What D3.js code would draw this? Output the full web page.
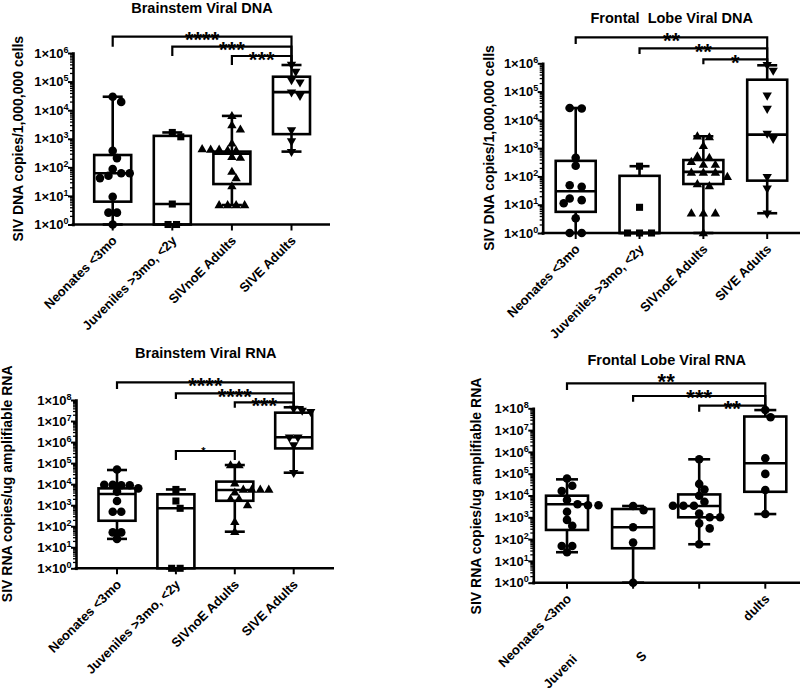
<!DOCTYPE html>
<html><head><meta charset="utf-8">
<script src="https://cdn.jsdelivr.net/npm/d3@7"></script>
<style>
body{margin:0;background:#fff;}
svg{display:block;font-family:"Liberation Sans",Arial,Helvetica,sans-serif;font-weight:bold;}
</style></head><body>
<svg id="chart" width="800" height="690"></svg>
<script>
// ---------------- DATA ----------------
const categories = ["Neonates <3mo", "Juveniles >3mo, <2y", "SIVnoE Adults", "SIVE Adults"];
const frontalRnaTickText = ["Neonates <3mo", "Juveni", "S", "dults"];
const panelTitles = ["Brainstem Viral DNA", "Frontal  Lobe Viral DNA", "Brainstem Viral RNA", "Frontal Lobe Viral RNA"];
const yTitles = ["SIV DNA copies/1,000,000 cells", "SIV DNA copies/1,000,000 cells",
                 "SIV RNA copies/ug amplifiable RNA", "SIV RNA copies/ug amplifiable RNA"];
const dnaExponents = [0, 1, 2, 3, 4, 5, 6];
const rnaExponents = [0, 1, 2, 3, 4, 5, 6, 7, 8];

// individual animals per group: [Neonates, Juveniles, SIVnoE, SIVE]
const bsDnaPoints = [
  [29500, 19500, 380, 210, 87, 62, 62, 51, 42, 9.3, 2.6, 2.6, 1],
  [1660, 1170, 5.2, 1, 1],
  [6300, 3000, 2140, 690, 440, 420, 400, 390, 420, 234, 219, 71, 42, 22, 4.8, 4.8, 4.8, 4.8],
  [398000, 224000, 115000, 95500, 42700, 32400, 2040, 830, 355]
];
const flDnaPoints = [
  [26300, 25100, 457, 240, 49, 43, 16.6, 14.5, 11.2, 3.3, 1, 1],
  [230, 8.1, 1, 1, 1],
  [2630, 2450, 1200, 525, 457, 330, 263, 263, 138, 138, 138, 98, 54, 46, 5, 5, 5, 1],
  [891000, 562000, 74100, 25100, 3310, 2190, 98, 38, 5]
];
const bsRnaPoints = [
  [50000, 9300, 9300, 8900, 8900, 6300, 4400, 1580, 490, 490, 51, 51, 25],
  [5600, 1580, 710, 1, 1],
  [81000, 81000, 11000, 5600, 5600, 5600, 5600, 4100, 2000, 2000, 1020, 162, 55],
  [40000000, 32000000, 28000000, 1700000, 1700000, 720000, 35000]
];
const flRnaPoints = [
  [60000, 28000, 16000, 6200, 4000, 3600, 3600, 1800, 760, 410, 48, 48, 25],
  [3300, 2140, 350, 69, 1],
  [457000, 34000, 19000, 9800, 5200, 3400, 3400, 3400, 1500, 1000, 1000, 525, 310, 58],
  [83000000, 39000000, 510000, 98000, 17800, 1410]
];

// box summaries per group: [min, Q1, median, Q3, max]
const bsDnaBoxes = [[1, 6.3, 62, 270, 29500], [1, 1, 5.2, 1260, 1660], [4.8, 26, 300, 355, 6300], [355, 1450, 42700, 148000, 380000]];
const flDnaBoxes = [[1, 5.6, 30, 355, 26300], [1, 1, 1, 105, 230], [1, 54, 145, 380, 2630], [5, 71, 3000, 263000, 850000]];
const bsRnaBoxes = [[25, 182, 3400, 6300, 47000], [1, 1, 710, 3300, 5600], [55, 1620, 5250, 13200, 81000], [35000, 500000, 1700000, 25000000, 45000000]];
const flRnaBoxes = [[25, 263, 4000, 9800, 55000], [1, 38, 350, 2400, 3300], [58, 1000, 3300, 11200, 457000], [1410, 14800, 300000, 42000000, 83000000]];

// significance vs SIVE Adults (from Neonates, Juveniles, SIVnoE)
const bracketPairs = [[0, 3], [1, 3], [2, 3]];
const bsDnaStars = ["****", "***", "***"];
const flDnaStars = ["**", "**", "*"];
const bsRnaStars = ["****", "****", "***"];
const flRnaStars = ["**", "***", "**"];
const bsRnaExtraPair = [1, 2];
const bsRnaExtraStar = "*";

// ---------------- LAYOUT ----------------
const layouts = [
  {axisX:73, y0:224.5, yTop:53, xFirst:112.7, xLast:291.5, axisEnd:330, boxW:37, capW:20,
   titleX:202, titleY:13, yTitleX:22.7, yTitleY:138.7,
   levels:[36.7,46.7,56], drops:[10,9.3,9], raise:[2,2,2], tie:8.5},
  {axisX:542.7, y0:233, yTop:63.3, xFirst:575.7, xLast:767.2, axisEnd:800, boxW:40, capW:20,
   titleX:671.7, titleY:23.3, yTitleX:494, yTitleY:148,
   levels:[37.3,48.3,59.3], drops:[6.7,5.7,5], raise:[2,2,2], tie:12},
  {axisX:76, y0:568.3, yTop:400, xFirst:117, xLast:293.7, axisEnd:334, boxW:37, capW:20,
   titleX:205.8, titleY:358.3, yTitleX:11.7, yTitleY:483.8,
   levels:[382.3,393.3,402.3], drops:[6.7,5.7,5.4], raise:[2,2,2], tie:8.5,
   extraLevel:451, extraDrop:9},
  {axisX:533.3, y0:582.7, yTop:408.3, xFirst:567, xLast:765.3, axisEnd:800, boxW:42, capW:22,
   titleX:666.7, titleY:365, yTitleX:481, yTitleY:496,
   levels:[383.3,396,405.7], drops:[6.7,5.7,6], raise:[6.7,3.5,2.4], tie:10.5}
];

const S_CIRCLE = "circle", S_SQUARE = "square", S_UP = "up", S_DOWN = "down";
const panels = [
  {title:panelTitles[0], yTitle:yTitles[0], exps:dnaExponents, points:bsDnaPoints, boxes:bsDnaBoxes, stars:bsDnaStars, ticks:categories, shapes:[S_CIRCLE,S_SQUARE,S_UP,S_DOWN], L:layouts[0]},
  {title:panelTitles[1], yTitle:yTitles[1], exps:dnaExponents, points:flDnaPoints, boxes:flDnaBoxes, stars:flDnaStars, ticks:categories, shapes:[S_CIRCLE,S_SQUARE,S_UP,S_DOWN], L:layouts[1]},
  {title:panelTitles[2], yTitle:yTitles[2], exps:rnaExponents, points:bsRnaPoints, boxes:bsRnaBoxes, stars:bsRnaStars, ticks:categories, shapes:[S_CIRCLE,S_SQUARE,S_UP,S_DOWN], L:layouts[2],
   extra:{pair:bsRnaExtraPair, star:bsRnaExtraStar}},
  {title:panelTitles[3], yTitle:yTitles[3], exps:rnaExponents, points:flRnaPoints, boxes:flRnaBoxes, stars:flRnaStars, ticks:frontalRnaTickText, shapes:[S_CIRCLE,S_CIRCLE,S_CIRCLE,S_CIRCLE], L:layouts[3]}
];

const svg = d3.select("#chart");
const symGen = {
  circle: d3.symbol().type(d3.symbolCircle).size(58)(),
  square: d3.symbol().type(d3.symbolSquare).size(50)(),
  up: d3.symbol().type(d3.symbolTriangle).size(38)(),
  down: d3.symbol().type(d3.symbolTriangle).size(38)()
};

function layoutPoints(vals, y, tie){
  const pts = vals.map(v => ({v, py: y(v)})).sort((a,b) => a.py - b.py);
  const groups = [];
  pts.forEach(p => {
    const g = groups[groups.length-1];
    if (g && Math.abs(p.py - g[0].py) < 2) g.push(p); else groups.push([p]);
  });
  const placed = [];
  const minD = 7.5;
  groups.forEach(g => {
    const n = g.length;
    const cands = [0];
    for (let k = 1; k < 12; k++) { cands.push(k*tie/2, -k*tie/2); }
    for (const c of cands) {
      const xs = g.map((p,i) => c + (i-(n-1)/2)*tie);
      const ok = g.every((p,i) => placed.every(q => Math.hypot(q.dx - xs[i], q.py - p.py) >= minD));
      if (ok) { g.forEach((p,i) => { p.dx = xs[i]; placed.push(p); }); break; }
    }
    if (g[0].dx === undefined) g.forEach((p,i) => { p.dx = (i-(n-1)/2)*tie; placed.push(p); });
  });
  return pts;
}

panels.forEach(P => {
  const L = P.L;
  const g = svg.append("g");
  const maxExp = P.exps[P.exps.length-1];
  const y = d3.scaleLog().domain([1, Math.pow(10, maxExp)]).range([L.y0, L.yTop]);
  const x = d3.scalePoint().domain(categories).range([L.xFirst, L.xLast]);

  // title
  g.append("text").attr("x", L.titleX).attr("y", L.titleY).attr("text-anchor","middle")
    .attr("font-size", 14.5).attr("xml:space","preserve").style("white-space","pre").text(P.title);
  // y title
  g.append("text").attr("transform", `translate(${L.yTitleX},${L.yTitleY}) rotate(-90)`)
    .attr("text-anchor","middle").attr("font-size", 14).text(P.yTitle);

  // brackets
  const topSIVE = y(P.boxes[3][4]);
  bracketPairs.forEach((pr, i) => {
    const xl = x(categories[pr[0]]), xr = x(categories[pr[1]]);
    const ly = L.levels[i];
    g.append("path").attr("d", `M${xl},${ly + L.drops[i]}V${ly}H${xr}V${topSIVE}`)
      .attr("fill","none").attr("stroke","#000").attr("stroke-width",2.2);
    g.append("text").attr("x", (xl+xr)/2).attr("y", ly - L.raise[i] + 0.575*22)
      .attr("text-anchor","middle").attr("font-size",22).text(P.stars[i]);
  });
  if (P.extra) {
    const xl = x(categories[P.extra.pair[0]]), xr = x(categories[P.extra.pair[1]]);
    const ly = L.extraLevel;
    g.append("path").attr("d", `M${xl},${ly + L.extraDrop}V${ly}H${xr}V${ly + L.extraDrop}`)
      .attr("fill","none").attr("stroke","#000").attr("stroke-width",2.2);
    g.append("text").attr("x", (xl+xr)/2 - 2).attr("y", ly - 2.5 + 0.575*11)
      .attr("text-anchor","middle").attr("font-size",11).text(P.extra.star);
  }

  // boxes
  P.boxes.forEach((b, i) => {
    const cx = x(categories[i]);
    const [mn, q1, md, q3, mx] = b;
    const bw = L.boxW, cw = L.capW;
    const st = {fill:"none", stroke:"#000", "stroke-width":2.6};
    const add = (tag, attrs) => { const e = g.append(tag); Object.entries({...st, ...attrs}).forEach(([k,v]) => e.attr(k,v)); };
    add("line", {x1:cx, x2:cx, y1:y(mx), y2:y(q3)});
    add("line", {x1:cx, x2:cx, y1:y(q1), y2:y(mn)});
    add("line", {x1:cx-cw/2, x2:cx+cw/2, y1:y(mx), y2:y(mx)});
    add("line", {x1:cx-cw/2, x2:cx+cw/2, y1:y(mn), y2:y(mn)});
    add("rect", {x:cx-bw/2, y:y(q3), width:bw, height:Math.max(0, y(q1)-y(q3))});
    add("line", {x1:cx-bw/2, x2:cx+bw/2, y1:y(md), y2:y(md)});
  });

  // points
  P.points.forEach((vals, i) => {
    const cx = x(categories[i]);
    const shape = P.shapes[i];
    const pts = layoutPoints(vals, y, L.tie);
    g.selectAll(null).data(pts).enter().append("path")
      .attr("d", symGen[shape])
      .attr("transform", d => `translate(${cx + d.dx},${d.py})` + (shape === S_DOWN ? " rotate(180)" : "") + (shape === S_UP ? " translate(0,0.5)" : ""))
      .attr("fill","#000");
  });

  // y axis: minor ticks
  const minors = [];
  for (let e = 0; e < maxExp; e++) for (let k = 2; k <= 9; k++) minors.push(k*Math.pow(10,e));
  const am = g.append("g").attr("transform", `translate(${L.axisX},0)`)
    .call(d3.axisLeft(y).tickValues(minors).tickSize(3).tickSizeOuter(0).tickFormat(() => ""));
  am.select(".domain").remove();
  am.selectAll(".tick line").attr("stroke-width", 1.3);
  // major ticks + labels
  const ay = g.append("g").attr("transform", `translate(${L.axisX},0)`)
    .call(d3.axisLeft(y).tickValues(P.exps.map(e => Math.pow(10,e))).tickSize(5).tickSizeOuter(0).tickPadding(0).tickFormat(() => ""));
  ay.attr("font-family", null).attr("font-size", null);
  ay.select(".domain").attr("stroke-width", 2.6).attr("stroke-linecap","square");
  ay.selectAll(".tick line").attr("stroke-width", 2);
  ay.selectAll(".tick text").each(function(d){
    const t = d3.select(this).attr("font-size", 13).attr("x", -4.5);
    t.append("tspan").text("1×10");
    t.append("tspan").attr("font-size", 9).attr("dy", -5).text(Math.round(Math.log10(d)));
  });

  // x axis
  g.append("line").attr("x1", L.axisX - 1.3).attr("x2", L.axisEnd).attr("y1", L.y0).attr("y2", L.y0)
    .attr("stroke","#000").attr("stroke-width", 2.6);
  categories.forEach((c, i) => {
    const cx = x(c);
    g.append("line").attr("x1", cx).attr("x2", cx).attr("y1", L.y0).attr("y2", L.y0 + 6)
      .attr("stroke","#000").attr("stroke-width", 2);
    const shown = P.ticks[i];
    const t = g.append("text").attr("transform", `translate(${cx + 5},${L.y0 + 17}) rotate(-45)`).attr("font-size", 13);
    if (shown === c || c.endsWith(shown)) {
      t.attr("text-anchor", "end").text(shown);
    } else {
      t.text(c);
      const len = t.node().getComputedTextLength();
      t.text(shown).attr("text-anchor", "start").attr("x", -len);
    }
  });
});
</script>
</body></html>
